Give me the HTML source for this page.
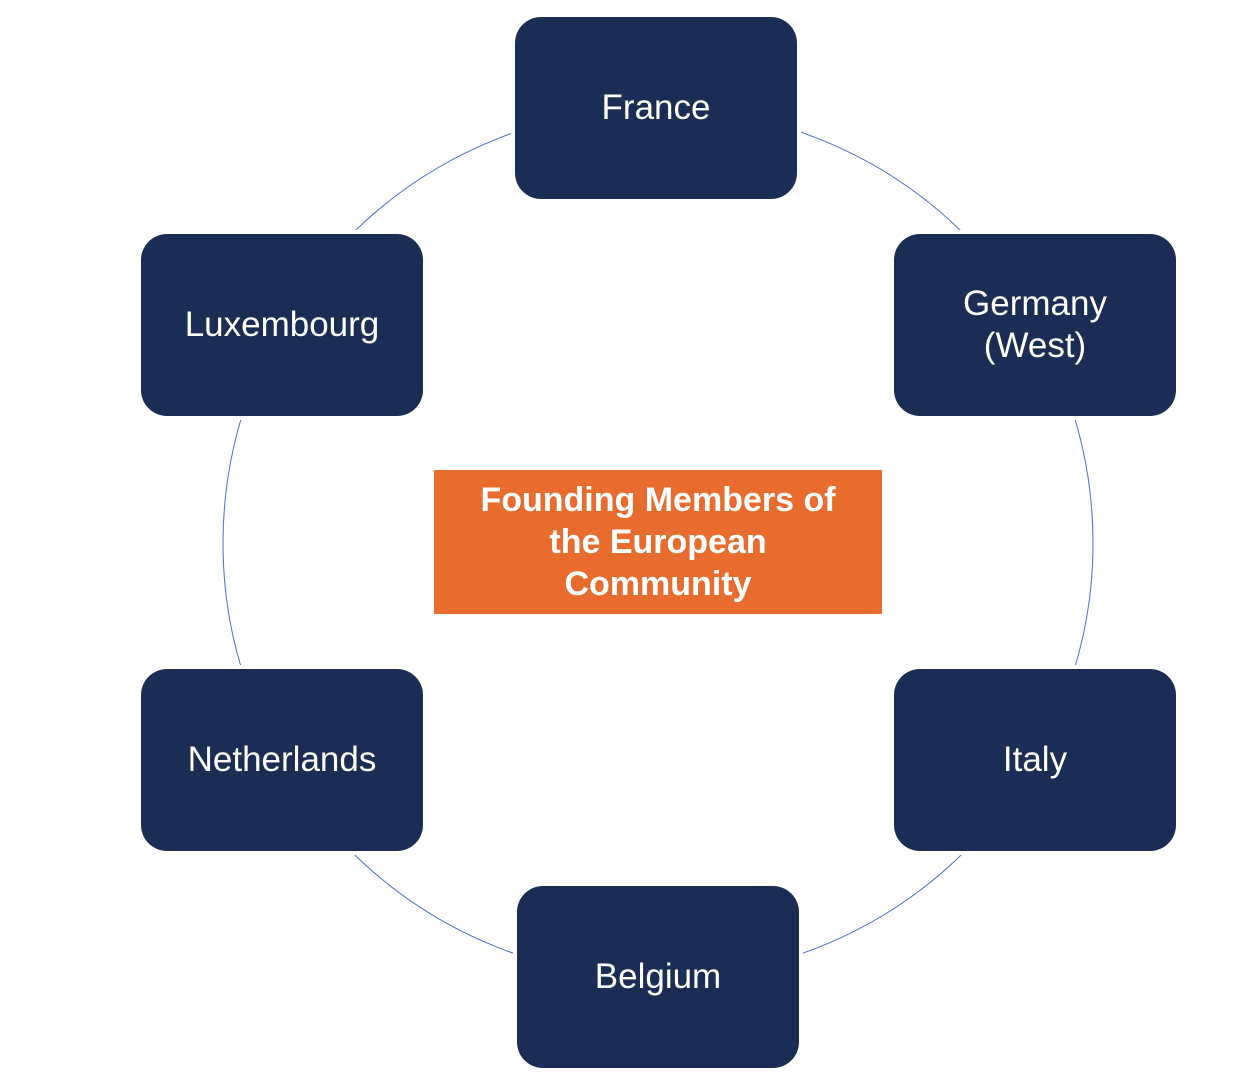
<!DOCTYPE html>
<html><head><meta charset="utf-8"><style>
html,body{margin:0;padding:0;background:#fff;width:1260px;height:1090px;overflow:hidden;font-family:"Liberation Sans",sans-serif}
.b{position:absolute;width:282px;height:182px;background:#1b2d54;border-radius:26px;color:#fff;font-size:35px;display:flex;align-items:center;justify-content:center;text-align:center;line-height:42px;box-shadow:0 0 0 4px #fff}
.c{position:absolute;left:434px;top:470px;width:448px;height:144px;background:#e86c2e;color:#fff;font-weight:bold;font-size:34px;line-height:42px;display:flex;align-items:center;justify-content:center;text-align:center}
</style></head><body>
<svg width="1260" height="1090" style="position:absolute;left:0;top:0"><circle cx="658" cy="543" r="435" fill="none" stroke="#4a6fd0" stroke-width="1"/></svg>
<div class="b" style="left:515px;top:17px">France</div>
<div class="b" style="left:894px;top:234px">Germany<br>(West)</div>
<div class="b" style="left:894px;top:669px">Italy</div>
<div class="b" style="left:517px;top:886px">Belgium</div>
<div class="b" style="left:141px;top:669px">Netherlands</div>
<div class="b" style="left:141px;top:234px">Luxembourg</div>
<div class="c">Founding Members of<br>the European<br>Community</div>
</body></html>
